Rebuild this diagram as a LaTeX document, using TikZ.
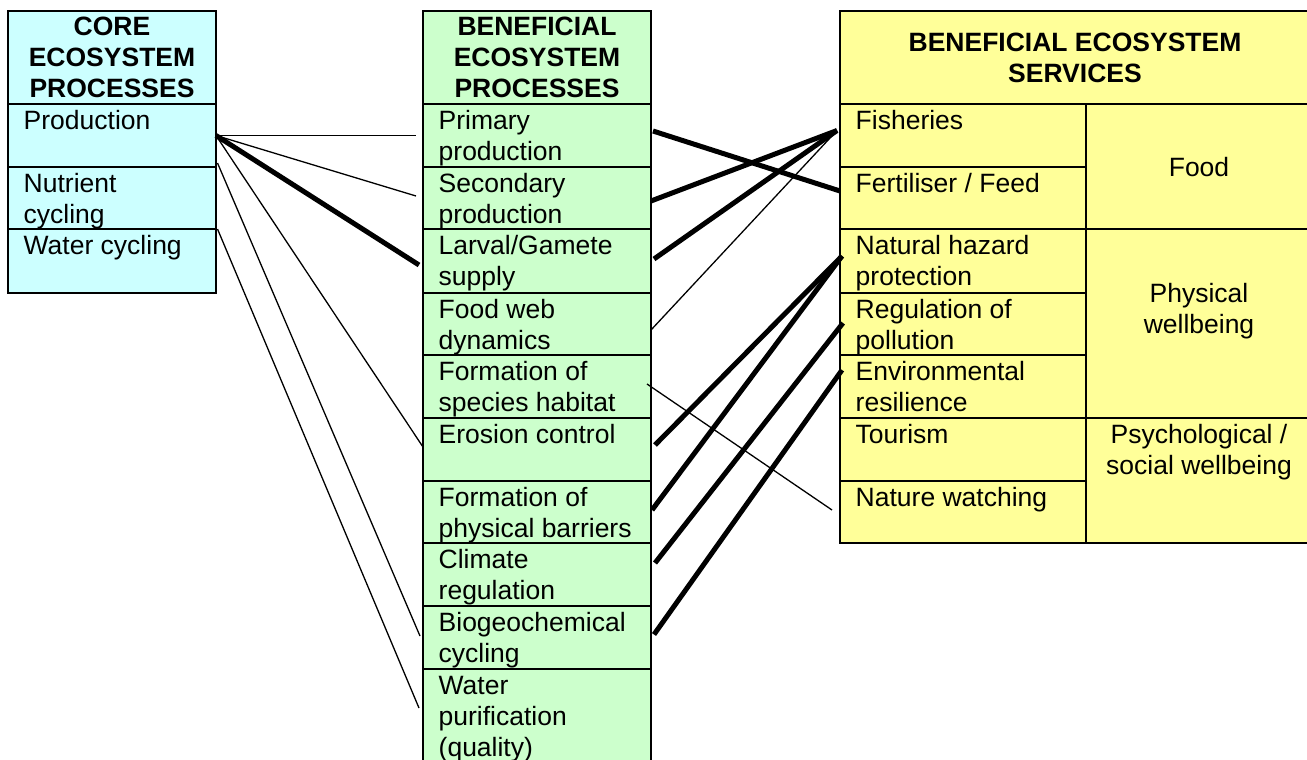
\documentclass[tikz,border=0pt]{standalone}
\usepackage{fontspec}
\setmainfont{Liberation Sans}
\usetikzlibrary{calc}
\definecolor{cyanc}{HTML}{CCFFFF}
\definecolor{greenc}{HTML}{CCFFCC}
\definecolor{yellowc}{HTML}{FFFF99}
% name, x, ytop, width, height, fill, text
\newcommand\mkcell[7]{%
  \node[cellbox,fill=#6,minimum width=#4,minimum height=#5,anchor=north west] (#1) at (#2,#3) {};
  \node[txt] (#1-t) at ([shift={(15.5,3.3)}]#1.north west) {\strut #7};}
\begin{document}
\begin{tikzpicture}[x=1pt,y=-1pt,
  cellbox/.style={draw=black,line width=1.6pt,inner sep=0pt,outer sep=0pt,rectangle},
  txt/.style={font=\fontsize{26.5}{31}\selectfont,align=left,inner sep=0pt,anchor=north west},
  hdr/.style={font=\fontsize{26.5}{31}\selectfont\bfseries,align=center,inner sep=0pt},
  lbl/.style={font=\fontsize{26.5}{31}\selectfont,align=center,inner sep=0pt},
  thinln/.style={line width=1.3pt},
  thickln/.style={line width=5pt}]
\useasboundingbox (0,0) rectangle (1307,760);
\clip (0,0) rectangle (1307,760);
% left column
\node[cellbox,fill=cyanc,minimum width=208,minimum height=93,anchor=north west] (lhead) at (8,11) {};
\node[hdr] (lhead-t) at (lhead.center) {CORE\\ECOSYSTEM\\PROCESSES};
\mkcell{prod}{8}{104}{208}{63}{cyanc}{Production}
\mkcell{nutr}{8}{167}{208}{62}{cyanc}{Nutrient\\cycling}
\mkcell{watr}{8}{229}{208}{64}{cyanc}{Water cycling}
% middle column
\node[cellbox,fill=greenc,minimum width=228,minimum height=93,anchor=north west] (mhead) at (423,11) {};
\node[hdr] (mhead-t) at (mhead.center) {BENEFICIAL\\ECOSYSTEM\\PROCESSES};
\mkcell{prim}{423}{104}{228}{63}{greenc}{Primary\\production}
\mkcell{seco}{423}{167}{228}{62}{greenc}{Secondary\\production}
\mkcell{larv}{423}{229}{228}{64}{greenc}{Larval/Gamete\\supply}
\mkcell{food}{423}{293}{228}{62}{greenc}{Food web\\dynamics}
\mkcell{habi}{423}{355}{228}{63}{greenc}{Formation of\\species habitat}
\mkcell{eros}{423}{418}{228}{63}{greenc}{Erosion control}
\mkcell{barr}{423}{481}{228}{62}{greenc}{Formation of\\physical barriers}
\mkcell{clim}{423}{543}{228}{63}{greenc}{Climate\\regulation}
\mkcell{biog}{423}{606}{228}{63}{greenc}{Biogeochemical\\cycling}
\mkcell{wpur}{423}{669}{228}{110}{greenc}{Water\\purification\\(quality)}
% right column
\node[cellbox,fill=yellowc,minimum width=470,minimum height=93,anchor=north west] (rhead) at (840,11) {};
\node[hdr] (rhead-t) at (rhead.center) {BENEFICIAL ECOSYSTEM\\SERVICES};
\mkcell{fish}{840}{104}{246}{63}{yellowc}{Fisheries}
\mkcell{fert}{840}{167}{246}{62}{yellowc}{Fertiliser / Feed}
\mkcell{haz}{840}{229}{246}{64}{yellowc}{Natural hazard\\protection}
\mkcell{poll}{840}{293}{246}{62}{yellowc}{Regulation of\\pollution}
\mkcell{resi}{840}{355}{246}{63}{yellowc}{Environmental\\resilience}
\mkcell{tour}{840}{418}{246}{63}{yellowc}{Tourism}
\mkcell{natw}{840}{481}{246}{62}{yellowc}{Nature watching}
\node[cellbox,fill=yellowc,minimum width=224,minimum height=125,anchor=north west] (foodS) at (1086,104) {};
\node[cellbox,fill=yellowc,minimum width=224,minimum height=189,anchor=north west] (phys) at (1086,229) {};
\node[cellbox,fill=yellowc,minimum width=224,minimum height=125,anchor=north west] (psyc) at (1086,418) {};
\node[lbl,anchor=base] (foodS-t) at (1199,176.5) {Food};
\node[lbl,anchor=north] (phys-t) at (1199,280.3) {\strut Physical\\wellbeing};
\node[lbl,anchor=north] (psyc-t) at (1199,421.3) {\strut Psychological /\\social wellbeing};
% connectors left -> middle
\draw[thinln] (prod.east) -- ([shift={(-7,0)}]prim.west);
\draw[thinln] (prod.east) -- ([shift={(-7,-2)}]seco.west);
\draw[thickln] (prod.east) -- ([shift={(-4,4)}]larv.west);
\draw[thinln] (prod.east) -- ([shift={(0,-2.5)}]eros.west);
\draw[thinln] ([shift={(1.5,-4)}]prod.south east) -- ([shift={(-3,-1.5)}]biog.west);
\draw[thinln] ([shift={(1.5,0)}]watr.north east) -- ([shift={(-4,39)}]wpur.north west);
% connectors middle -> right
\draw[thickln] ([shift={(2,-4.5)}]prim.east) -- ([shift={(0,-7)}]fert.west);
\draw[thickln] ([shift={(0,3)}]seco.east) -- ([shift={(-3,-5)}]fish.west);
\draw[thickln] ([shift={(3,-2)}]larv.east) -- ([shift={(-3,-5)}]fish.west);
\draw[thinln] ([shift={(0,6)}]food.east) -- ([shift={(-3,-5)}]fish.west);
\draw[thinln] ([shift={(-4,-2.5)}]habi.east) -- ([shift={(-8,-2)}]natw.west);
\draw[thickln] ([shift={(4,-4.5)}]eros.east) -- ([shift={(2,-5)}]haz.west);
\draw[thickln] ([shift={(1,-2)}]barr.east) -- ([shift={(2,-5)}]haz.west);
\draw[thickln] ([shift={(4,-11.5)}]clim.east) -- ([shift={(3,-1)}]poll.west);
\draw[thickln] ([shift={(3,-3)}]biog.east) -- ([shift={(2,-16.5)}]resi.west);
\end{tikzpicture}
\end{document}
